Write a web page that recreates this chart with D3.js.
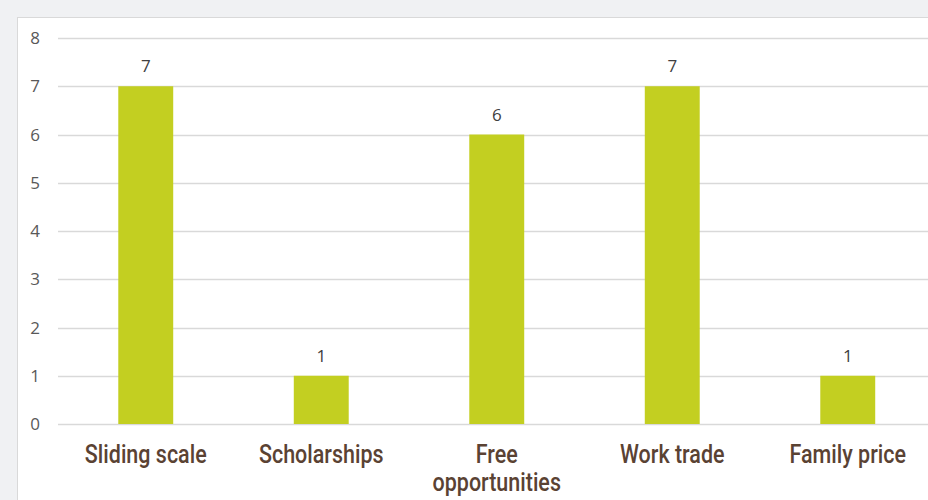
<!DOCTYPE html>
<html>
<head>
<meta charset="utf-8">
<script src="https://cdn.jsdelivr.net/npm/d3@7"></script>
<style>
  body { margin: 0; background: #f0f1f3; overflow: hidden; }
</style>
</head>
<body>
<div id="chart"></div>
<script>
const categories = ["Sliding scale", "Scholarships", "Free opportunities", "Work trade", "Family price"];
const counts = [7, 1, 6, 7, 1];
const yTicks = [0, 1, 2, 3, 4, 5, 6, 7, 8];

const W = 928, H = 500;
let svg = d3.select("#chart").append("svg").attr("width", W).attr("height", H);

// white panel
svg.append("rect")
    .attr("x", 17.5).attr("y", 17.5)
    .attr("width", W).attr("height", H)
    .attr("fill", "#fff")
    .attr("stroke", "#d9d9d9")
    .attr("stroke-width", 1);

const x = d3.scaleBand().domain(categories).range([58, 935.5]).paddingInner(0.687).paddingOuter(0.3435);
const y = d3.scaleLinear().domain([0, 8]).range([424, 38]);

// gridlines
svg.append("g")
    .selectAll("line")
    .data(yTicks)
    .join("line")
    .attr("x1", 58).attr("x2", W)
    .attr("y1", d => Math.round(y(d)) + 0.5)
    .attr("y2", d => Math.round(y(d)) + 0.5)
    .attr("stroke", "#d9d9d9")
    .attr("stroke-width", 1.3);

// y labels
svg.append("g")
    .selectAll("text")
    .data(yTicks)
    .join("text")
    .attr("x", 35).attr("y", d => y(d))
    .attr("dy", "0.36em")
    .attr("text-anchor", "middle")
    .attr("font-family", "Open Sans, sans-serif")
    .attr("font-size", 17)
    .attr("fill", "#595959")
    .text(d => d);

// bars
svg.append("g")
    .selectAll("rect")
    .data(counts)
    .join("rect")
    .attr("x", (d, i) => x(categories[i]))
    .attr("y", d => y(d))
    .attr("width", x.bandwidth())
    .attr("height", d => y(0) - y(d))
    .attr("fill", "#c3cf21");

// value labels
svg.append("g")
    .selectAll("text")
    .data(counts)
    .join("text")
    .attr("x", (d, i) => x(categories[i]) + x.bandwidth() / 2)
    .attr("y", d => y(d) - 20)
    .attr("dy", "0.36em")
    .attr("text-anchor", "middle")
    .attr("font-family", "Open Sans, sans-serif")
    .attr("font-size", 17)
    .attr("fill", "#404040")
    .text(d => d);

// category labels (narrow, DIN-like look: squeeze horizontally)
const lines = { "Free opportunities": ["Free", "opportunities"] };
svg.append("g")
    .selectAll("text")
    .data(categories)
    .join("text")
    .attr("transform", d => `translate(${x(d) + x.bandwidth() / 2},463) scale(0.86,1)`)
    .attr("text-anchor", "middle")
    .attr("font-family", "Roboto, sans-serif")
    .attr("font-weight", 500)
    .attr("font-size", 25)
    .attr("fill", "#5a4233")
    .each(function (d) {
        const parts = lines[d] || [d];
        d3.select(this).selectAll("tspan")
            .data(parts)
            .join("tspan")
            .attr("x", 0)
            .attr("dy", (p, i) => i === 0 ? 0 : 28)
            .text(p => p);
    });
</script>
</body>
</html>
